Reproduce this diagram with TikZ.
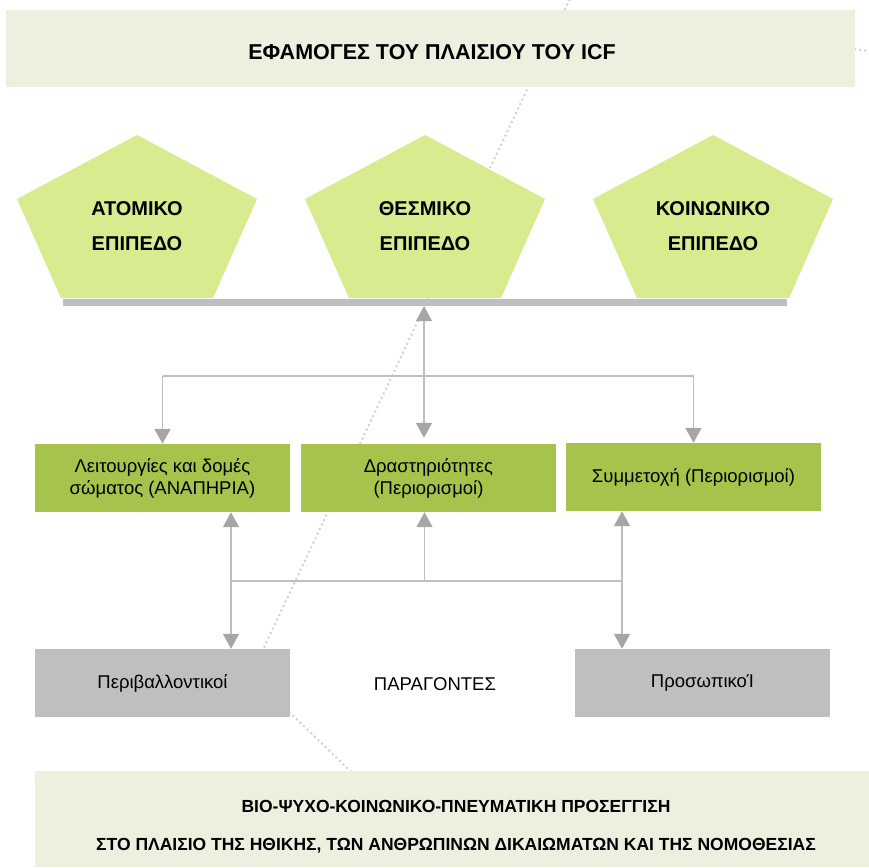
\documentclass[tikz,border=0pt]{standalone}
\usepackage{fontspec}
\setmainfont{Liberation Sans}
\usepackage{xcolor}
\usetikzlibrary{arrows.meta,positioning}
\definecolor{icfband}{HTML}{EBF1DE}
\definecolor{icflevel}{HTML}{D8EB8E}
\definecolor{icfgreen}{HTML}{A6C34C}
\definecolor{icfgray}{HTML}{BFBFBF}
\definecolor{icftip}{HTML}{A6A6A6}
\definecolor{icfdots}{HTML}{D2D2D2}
\tikzset{
  levelText/.style={font=\fontsize{20}{35}\selectfont\bfseries, align=center},
  partBox/.style={fill=icfgreen, minimum width=255pt, minimum height=68pt, inner sep=0pt, align=center, font=\fontsize{18.5}{22}\selectfont},
  factorBox/.style={fill=icfgray, minimum width=255pt, minimum height=68pt, inner sep=0pt, font=\fontsize{18.5}{21}\selectfont},
  linkLine/.style={draw=icfgray, line width=1.8pt},
  linkArrow/.style={linkLine, -{Triangle[length=15pt,width=16pt,color=icftip]}},
  linkBoth/.style={linkLine, {Triangle[length=15pt,width=16pt,color=icftip]}-{Triangle[length=15pt,width=16pt,color=icftip]}}
}

\begin{document}
\begin{tikzpicture}[x=1pt,y=-1pt]
  \useasboundingbox (0,0) rectangle (869,867);
  % background dotted frame
  \draw[icfdots, line width=2pt, dash pattern=on 2pt off 3pt] (574,-10) -- (251,675) -- (372,792);
  \draw[icfdots, line width=2pt, dash pattern=on 2pt off 3pt] (800,40) -- (880,53);
  % title band
  \fill[icfband] (6,10) rectangle (855,87);
  \node[font=\fontsize{21.5}{25}\selectfont\bfseries] (title) at (432,52) {ΕΦΑΜΟΓΕΣ ΤΟΥ ΠΛΑΙΣΙΟΥ ΤΟΥ ICF};
  % levels
  \foreach \cx in {137,425,713}
    \fill[icflevel] (\cx,135) -- ({\cx+120},199) -- ({\cx+76},298) -- ({\cx-76},298) -- ({\cx-120},199) -- cycle;
  \node[levelText] (atomiko) at (137,226) {ΑΤΟΜΙΚΟ\\ΕΠΙΠΕΔΟ};
  \node[levelText] (thesmiko) at (425,226) {ΘΕΣΜΙΚΟ\\ΕΠΙΠΕΔΟ};
  \node[levelText] (koinoniko) at (713,226) {ΚΟΙΝΩΝΙΚΟ\\ΕΠΙΠΕΔΟ};
  \node[fill=icfgray, minimum width=724pt, minimum height=7pt, inner sep=0pt] (bar) at (425,302.5) {};
  % components
  \node[partBox] (leitourgies) at (162.5,478) {Λειτουργίες και δομές\\σώματος (ΑΝΑΠΗΡΙΑ)};
  \node[partBox] (drastiriotites) at (428.5,478) {Δραστηριότητες\\(Περιορισμοί)};
  \node[partBox] (symmetochi) at (693.5,477) {Συμμετοχή (Περιορισμοί)};
  % factors
  \node[factorBox] (perivallon) at (162.5,683) {Περιβαλλοντικοί};
  \node[font=\fontsize{18.5}{21}\selectfont] (paragontes) at (435,684) {ΠΑΡΑΓΟΝΤΕΣ};
  \node[factorBox] (prosopikoi) at (702.5,683) {ΠροσωπικοΊ};
  % connectors
  \coordinate (split) at (424,376);
  \coordinate (join) at (424.5,581);
  \draw[linkBoth, shorten >=6pt] (bar.south -| split) -- (split |- drastiriotites.north);
  \draw[linkLine] (leitourgies.north |- split) -- (symmetochi.north |- split);
  \draw[linkArrow] (leitourgies.north |- split) -- (leitourgies.north);
  \draw[linkArrow] (symmetochi.north |- split) -- (symmetochi.north);
  \draw[linkBoth] ([xshift=68.5pt]leitourgies.south) -- ([xshift=68.5pt]leitourgies.south |- perivallon.north);
  \draw[linkBoth] ([xshift=-71.5pt]symmetochi.south) -- ([xshift=-71.5pt]symmetochi.south |- prosopikoi.north);
  \draw[linkLine] ([xshift=68.5pt]leitourgies.south |- join) -- ([xshift=-71.5pt]symmetochi.south |- join);
  \draw[linkArrow] (join) -- (join |- drastiriotites.south);
  % approach band
  \fill[icfband] (35,771) rectangle (869,867);
  \node[font=\fontsize{17.5}{38}\selectfont\bfseries, align=center] (approach) at (456,827) {ΒΙΟ-ΨΥΧΟ-ΚΟΙΝΩΝΙΚΟ-ΠΝΕΥΜΑΤΙΚΗ ΠΡΟΣΕΓΓΙΣΗ\\ΣΤΟ ΠΛΑΙΣΙΟ ΤΗΣ ΗΘΙΚΗΣ, ΤΩΝ ΑΝΘΡΩΠΙΝΩΝ ΔΙΚΑΙΩΜΑΤΩΝ ΚΑΙ ΤΗΣ ΝΟΜΟΘΕΣΙΑΣ};
\end{tikzpicture}
\end{document}
